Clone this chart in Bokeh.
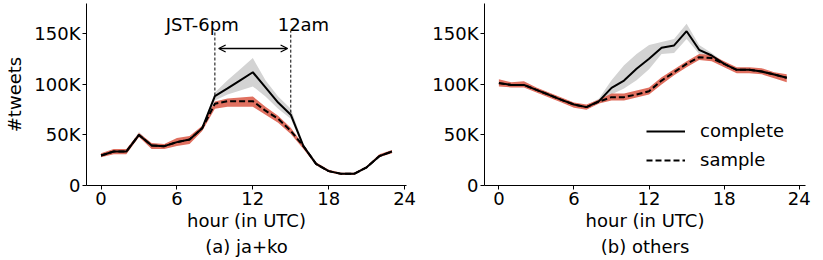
from bokeh.plotting import figure
from bokeh.layouts import row
from bokeh.models import FixedTicker, Legend, LegendItem, Arrow, OpenHead, Title, Range1d
from bokeh.core.properties import value
from bokeh.embed import file_html
from bokeh.resources import INLINE

FONT = "DejaVu Sans"
FS = "18px"

hours = list(range(24))

# ---- (a) ja+ko, values in thousands of tweets ----
a_complete = [29.7, 33.6, 33.6, 50.0, 39.6, 38.9, 42.9, 45.5, 56.7, 88.4, 96.0, 104.0,
              112.0, 97.0, 82.0, 70.0, 39.0, 21.4, 14.2, 11.5, 11.5, 18.0, 29.0, 33.6]
a_complete_lo = [29, 33, 33, 48, 38, 38, 42, 44, 55, 84, 90, 94,
                 98, 88, 76, 66, 37, 20.5, 13.5, 11, 11, 17.5, 28.5, 33]
a_complete_hi = [31, 35, 35, 53, 41, 40, 44, 47, 58, 92, 104, 115,
                 126, 104, 88, 76, 41, 22, 15, 12, 12, 18.5, 30, 34.5]
a_sample = [29.7, 33.6, 33.6, 50.0, 39.6, 38.9, 42.9, 45.5, 56.7, 80.8, 83.4, 83.4,
            83.4, 74.0, 66.0, 54.0, 39.0, 21.4, 14.2, 11.5, 11.5, 18.0, 29.0, 33.6]
a_sample_lo = [28, 31, 31, 48, 36, 36, 39, 41, 54, 76, 78, 78,
               78, 70, 62, 51, 36, 20, 13, 10.5, 10.5, 17, 28, 32]
a_sample_hi = [32, 36, 36, 52, 42, 41, 47, 49, 59, 83, 86, 87,
               88, 78, 69, 57, 40, 23, 15.5, 12.5, 12.5, 19, 31, 35]

# ---- (b) others ----
b_complete = [101.5, 99.5, 99.5, 94.6, 89.7, 84.7, 80.1, 77.5, 83.4, 96.6, 103.8, 115.4,
              125.3, 136.2, 138.5, 152.6, 134.2, 128.6, 120.3, 114.4, 114.4, 112.7, 109.8, 106.5]
b_complete_lo = [100, 98, 98, 93, 88, 83, 79, 76, 81, 90, 96, 104,
                 115, 130, 131, 145, 130, 126, 118, 113, 113, 111, 108, 105]
b_complete_hi = [103, 101, 101, 96, 91, 86, 81, 79, 86, 104, 119, 130,
                 139, 142, 145, 160, 139, 131, 122, 116, 116, 114, 111, 108]
b_sample = [101, 99.5, 99.5, 94.6, 89.7, 84.7, 80.1, 77.5, 83.0, 87.4, 87.4, 90.0,
            93.3, 103.8, 112.0, 120.3, 126.9, 126.0, 120.3, 114.4, 114.4, 112.7, 109.8, 106.5]
b_sample_lo = [98, 97, 97, 92, 87, 82, 77, 75, 81, 84, 84, 87,
               90, 100, 109, 117, 124, 123, 117, 111, 111, 110, 106, 102]
b_sample_hi = [105, 102, 103, 97, 92, 87, 82, 80, 85, 91, 91, 94,
               97, 107, 115, 123, 130, 129, 123, 117, 117, 116, 112, 110]

x_ticks = [0, 6, 12, 18, 24]
y_ticks = [0, 50, 100, 150]
y_tick_labels = {0: "0", 50: "50K", 100: "100K", 150: "150K"}

# annotation for (a)
jst_hours = [9, 15]
jst_line_bottom = [89, 72]
jst_line_top = [153, 153]
jst_text_x = [8, 16]
jst_text_y = [159, 159]
jst_text = ["JST-6pm", "12am"]
arrow_x = [9.3, 14.75]
arrow_y = 135.5

RED = "#e07060"
GRAY = "#d3d3d3"


def make_fig(frame_w, border_left, border_right, x_end, subtitle, ylabel):
    p = figure(frame_width=frame_w, frame_height=182, output_backend="svg",
               toolbar_location=None,
               x_range=Range1d(-1.15, x_end), y_range=Range1d(0, 180),
               min_border_left=border_left, min_border_right=border_right,
               min_border_top=3, min_border_bottom=73)
    p.outline_line_color = None
    p.grid.visible = False
    p.xaxis.ticker = FixedTicker(ticks=x_ticks)
    p.yaxis.ticker = FixedTicker(ticks=y_ticks)
    p.yaxis.major_label_overrides = y_tick_labels
    for ax in (p.xaxis[0], p.yaxis[0]):
        ax.major_tick_out = 4
        ax.major_tick_in = 0
        ax.minor_tick_out = 0
        ax.minor_tick_in = 0
        ax.major_label_text_font = FONT
        ax.major_label_text_font_size = FS
        ax.major_label_text_color = "black"
        ax.axis_line_color = "black"
        ax.major_tick_line_color = "black"
        ax.axis_label_text_font = FONT
        ax.axis_label_text_font_size = FS
        ax.axis_label_text_font_style = "normal"
        ax.axis_label_text_color = "black"
        ax.major_label_standoff = 2
    p.xaxis.axis_label = "hour (in UTC)"
    p.xaxis.axis_label_standoff = 2
    if ylabel:
        p.yaxis.axis_label = ylabel
        p.yaxis.axis_label_standoff = 6
    p.add_layout(Title(text=subtitle, align="center", text_font=FONT, text_font_size=FS,
                       text_font_style="normal", text_color="black",
                       standoff=0, offset=0), "below")
    return p


pa = make_fig(320, 86, 10, 24.15, "(a) ja+ko", "#tweets")
pa.varea(x=hours, y1=a_complete_lo, y2=a_complete_hi, fill_color=GRAY)
pa.varea(x=hours, y1=a_sample_lo, y2=a_sample_hi, fill_color=RED)
pa.line(hours, a_sample, line_color="black", line_width=2, line_dash="6 3")
pa.line(hours, a_complete, line_color="black", line_width=2)
pa.segment(x0=jst_hours, y0=jst_line_bottom, x1=jst_hours, y1=jst_line_top,
           line_color="black", line_width=1, line_dash="3 2")
pa.text(x=jst_text_x, y=jst_text_y, text=jst_text, text_align="center",
        text_baseline="middle", text_font=value(FONT), text_font_size=FS, text_color="black")
pa.add_layout(Arrow(x_start=arrow_x[0], y_start=arrow_y, x_end=arrow_x[1], y_end=arrow_y,
                    line_width=1.3, line_color="black",
                    start=OpenHead(size=7, line_width=1.3),
                    end=OpenHead(size=7, line_width=1.3)))

pb = make_fig(321, 68, 16, 24.5, "(b) others", None)
pb.varea(x=hours, y1=b_complete_lo, y2=b_complete_hi, fill_color=GRAY)
pb.varea(x=hours, y1=b_sample_lo, y2=b_sample_hi, fill_color=RED)
ls = pb.line(hours, b_sample, line_color="black", line_width=2, line_dash="6 3")
lc = pb.line(hours, b_complete, line_color="black", line_width=2)
legend = Legend(items=[LegendItem(label="complete", renderers=[lc]),
                       LegendItem(label="sample", renderers=[ls])],
                location=(162, 15), border_line_color=None, background_fill_alpha=0,
                padding=0, margin=0, spacing=8, glyph_width=39, glyph_height=18,
                label_standoff=15, label_text_font=FONT, label_text_font_size=FS,
                label_text_color="black")
pb.add_layout(legend)

layout = row(pa, pb)
open("out.html", "w").write(file_html(layout, INLINE))
